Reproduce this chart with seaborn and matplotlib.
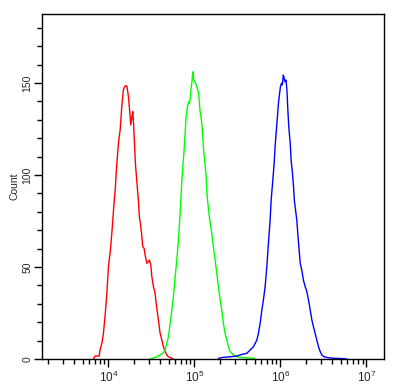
import numpy as np
import pandas as pd
import seaborn as sns
import matplotlib
matplotlib.use("Agg")
import matplotlib.pyplot as plt
from matplotlib.ticker import LogLocator, MultipleLocator, NullFormatter

sns.set_theme(style="ticks")
plt.rcParams['font.family'] = ['Liberation Sans', 'DejaVu Sans']
plt.rcParams['mathtext.fontset'] = 'custom'
plt.rcParams['mathtext.rm'] = 'Liberation Sans'
plt.rcParams['mathtext.it'] = 'Liberation Sans'

# red histogram (fluorescence intensity, count)
red_x = [6.7e3, 7.0e3, 7.8e3, 8.0e3, 8.4e3, 8.75e3, 9.2e3, 9.6e3, 10.0e3, 10.5e3,
         10.96e3, 11.4e3, 11.7e3, 12.0e3, 12.3e3, 12.7e3, 13.2e3, 13.7e3, 14.3e3, 14.9e3,
         15.6e3, 16.4e3, 17.1e3, 17.9e3, 18.2e3, 18.9e3, 19.2e3, 19.6e3, 20.1e3, 20.6e3,
         21.4e3, 22.3e3, 22.9e3, 23.8e3, 24.5e3, 25.1e3, 26.0e3, 26.7e3, 28.0e3, 29.2e3,
         30.0e3, 31.1e3, 32.0e3, 33.4e3, 34.9e3, 35.9e3, 37.2e3, 38.6e3, 39.9e3, 41.8e3,
         43.6e3, 45.6e3, 47.8e3, 49.9e3, 54.6e3, 57.0e3]
red_y = [0, 1.6, 1.6, 4.9, 8.5, 13.9, 24.8, 35.7, 50.2, 58.3,
         68.3, 79.2, 86.4, 91.8, 100.9, 109.9, 119, 124.5, 137.1, 146.2,
         148.4, 148.4, 142.6, 131.7, 127.2, 132.6, 134.4, 128.1, 117.2, 106.3,
         96.4, 86.4, 77.3, 71.9, 66.5, 61, 60.2, 56.5, 52, 52.9,
         53.8, 51.1, 44.7, 39.3, 35.7, 30.3, 24.8, 19.4, 14, 10.3,
         6.7, 4, 2.2, 1.2, 0.4, 0]

# green histogram
green_x = [30.5e3, 36.6e3, 39.9e3, 43.6e3, 45.6e3, 47.8e3, 49.9e3, 52.2e3, 54.6e3, 57.0e3,
           59.7e3, 62.4e3, 65.2e3, 68.2e3, 69.5e3, 71.3e3, 73.3e3, 75.9e3, 78.0e3, 80.0e3,
           82.9e3, 86.1e3, 87.5e3, 89.1e3, 91.5e3, 94.0e3, 95.8e3, 97.3e3, 101e3, 105e3,
           108e3, 112e3, 116e3, 122e3, 125e3, 127e3, 131e3, 136e3, 139e3, 142e3,
           149e3, 159e3, 166e3, 174e3, 182e3, 190e3, 199e3, 208e3, 217e3, 227e3,
           238e3, 249e3, 260e3, 284e3, 311e3, 372e3, 508e3]
green_y = [0, 1.2, 2.2, 3.4, 4.9, 8.5, 12.1, 19.4, 26.6, 33.9,
           44.7, 53.8, 64.7, 79.2, 86.4, 96.4, 104.6, 113.6, 122.7, 131.7,
           137.1, 139.9, 139.0, 140.8, 147.1, 151.6, 156.1, 152.5, 150.7, 148.9,
           147.1, 144.4, 135.3, 128.1, 120.8, 115.4, 108.2, 100.9, 91.8, 86.4,
           77.3, 68.3, 61, 53.8, 46.6, 39.3, 32.1, 26.6, 19.4, 14,
           10.3, 6.7, 4, 2.2, 1.2, 0.7, 0.4]

# blue histogram
blue_x = [190e3, 217e3, 260e3, 311e3, 356e3, 407e3, 444e3, 486e3, 532e3, 555e3,
          581e3, 608e3, 634e3, 664e3, 695e3, 725e3, 759e3, 780e3, 816e3, 845e3,
          867e3, 891e3, 923e3, 948e3, 973e3, 1.00e6, 1.03e6, 1.05e6, 1.07e6, 1.08e6,
          1.10e6, 1.13e6, 1.16e6, 1.19e6, 1.22e6, 1.25e6, 1.30e6, 1.33e6, 1.38e6, 1.42e6,
          1.45e6, 1.55e6, 1.59e6, 1.65e6, 1.70e6, 1.77e6, 1.85e6, 1.94e6, 2.03e6, 2.12e6,
          2.22e6, 2.32e6, 2.42e6, 2.53e6, 2.65e6, 2.77e6, 2.90e6, 3.03e6, 3.22e6, 3.61e6,
          4.13e6, 5.41e6, 5.92e6]
blue_y = [0.4, 0.9, 1.2, 1.6, 2.5, 3.1, 4.9, 6.7, 10.3, 14,
          19.4, 26.6, 32.1, 39.3, 50.2, 62.9, 75.5, 86.4, 97.3, 106.3,
          115.4, 122.7, 131.7, 138.9, 143.5, 148, 149.9, 149, 151.6, 154.3,
          153.1, 150.7, 151.6, 146.2, 135.3, 126.3, 117.2, 108.2, 100.9, 93.7,
          86.4, 75.5, 68.3, 59.2, 52, 48.4, 42.9, 39.3, 36.6, 32.1,
          26.6, 21.2, 17.6, 14, 10.3, 6.7, 4, 2.2, 1.2, 0.7,
          0.4, 0.2, 0]

y_ticks = [0, 50, 100, 150]

fig = plt.figure(figsize=(3.97, 3.89), dpi=100)
ax = fig.add_axes([42 / 397, 1 - 359 / 389, 342 / 397, 345 / 389])

for xs, ys, c in [(red_x, red_y, "#ff0000"), (green_x, green_y, "#00ff00"), (blue_x, blue_y, "#0000ff")]:
    df = pd.DataFrame({"x": xs, "y": ys})
    sns.lineplot(data=df, x="x", y="y", ax=ax, color=c, linewidth=1,
                 estimator=None, sort=False)

ax.set_xscale("log")
ax.set_xlim(1.69e3, 1.6e7)
ax.set_ylim(0, 187.5)
ax.set_xlabel("")
ax.set_ylabel("Count", fontsize=7.5, labelpad=2)

ax.xaxis.set_major_locator(LogLocator(base=10, numticks=10))
ax.xaxis.set_minor_locator(LogLocator(base=10, subs=np.arange(2, 10), numticks=20))
ax.xaxis.set_minor_formatter(NullFormatter())
ax.set_yticks(y_ticks)
ax.yaxis.set_minor_locator(MultipleLocator(10))

ax.tick_params(axis="both", which="major", length=6, width=1, color="black", direction="out")
ax.tick_params(axis="both", which="minor", length=3.5, width=1, color="black", direction="out")
ax.tick_params(axis="x", labelsize=8.5, pad=2)
ax.tick_params(axis="y", labelsize=7.5, pad=1)
for lab in ax.get_yticklabels():
    lab.set_rotation(90)
    lab.set_va("center")

for s in ax.spines.values():
    s.set_visible(True)
    s.set_color("black")
    s.set_linewidth(1)

fig.savefig("out.png", dpi=100, facecolor="white")
